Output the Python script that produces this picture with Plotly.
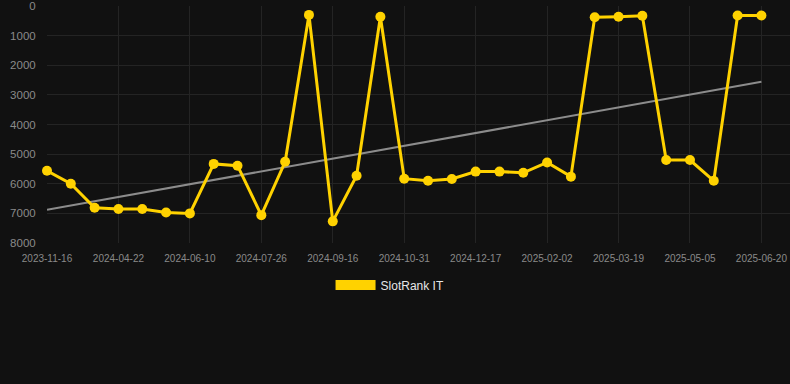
import plotly.graph_objects as go

dates = [
    "2023-11-16", "2024-03-22", "2024-04-07", "2024-04-22", "2024-05-08", "2024-05-24",
    "2024-06-10", "2024-06-25", "2024-07-10", "2024-07-26", "2024-08-13", "2024-08-30",
    "2024-09-16", "2024-10-01", "2024-10-16", "2024-10-31", "2024-11-16", "2024-12-01",
    "2024-12-17", "2025-01-01", "2025-01-17", "2025-02-02", "2025-02-17", "2025-03-04",
    "2025-03-19", "2025-04-03", "2025-04-19", "2025-05-05", "2025-05-20", "2025-06-04",
    "2025-06-20",
]
ranks = [
    5560, 6000, 6810, 6850, 6850, 6970, 7000, 5330, 5390, 7060, 5260, 300,
    7270, 5730, 360, 5830, 5900, 5840, 5590, 5590, 5630, 5280, 5760, 380,
    360, 330, 5200, 5200, 5900, 320, 320,
]
trend_dates = [dates[0], dates[-1]]
trend_values = [6880, 2560]
tick_labels = dates[::3]
y_ticks = [0, 1000, 2000, 3000, 4000, 5000, 6000, 7000, 8000]

BG = "#111111"
GOLD = "#FFD200"
GRID = "#242424"
TICK = "#8a8a8a"
FONT = "Liberation Sans, Arial, sans-serif"

fig = go.Figure()
fig.add_trace(go.Scatter(
    x=trend_dates, y=trend_values, mode="lines",
    line=dict(color="#8c8c8c", width=2), showlegend=False, hoverinfo="skip",
    cliponaxis=False,
))
fig.add_trace(go.Scatter(
    x=dates, y=ranks, mode="lines+markers", name="SlotRank IT",
    line=dict(color=GOLD, width=3),
    marker=dict(color=GOLD, size=10),
    showlegend=False, cliponaxis=False,
))
# legend entry (rectangle swatch)
fig.add_trace(go.Scatter(
    x=[None], y=[None], mode="lines", name="SlotRank IT",
    line=dict(color=GOLD, width=12), showlegend=True,
))

fig.update_layout(
    width=790, height=384,
    paper_bgcolor=BG, plot_bgcolor=BG,
    margin=dict(l=47, r=0, t=6, b=141),
    font=dict(family=FONT, color=TICK),
    legend=dict(
        orientation="h", x=0.4617, xanchor="center", y=-0.177, yanchor="middle",
        font=dict(color="#e6e6e6", size=12), itemwidth=40,
        bgcolor="rgba(0,0,0,0)",
    ),
    xaxis=dict(
        type="category", categoryorder="array", categoryarray=dates,
        range=[0, 31.2],
        tickmode="array", tickvals=tick_labels, ticktext=tick_labels,
        showgrid=True, gridcolor=GRID, gridwidth=1,
        zeroline=False, showline=False,
        ticks="outside", ticklen=6, tickcolor=BG,
        tickfont=dict(size=10, color=TICK),
    ),
    yaxis=dict(
        range=[8000, 0], tickmode="array", tickvals=y_ticks,
        showgrid=True, gridcolor=GRID, gridwidth=1,
        zeroline=False, showline=False,
        ticks="outside", ticklen=8, tickcolor=BG,
        tickfont=dict(size=11.5, color=TICK),
    ),
)

fig.write_html(
    "out.html",
    config={"displayModeBar": False},
    post_script="document.body.style.margin='0';document.body.style.background='#111111';",
)
